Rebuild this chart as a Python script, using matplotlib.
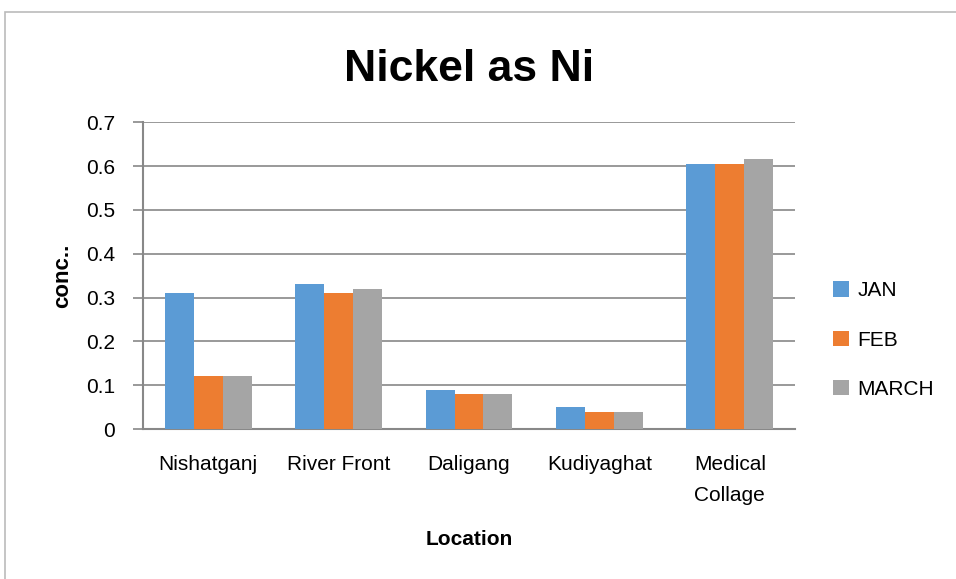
import numpy as np
import matplotlib
matplotlib.use("Agg")
import matplotlib.pyplot as plt
from matplotlib import font_manager
from matplotlib.patches import Rectangle

# Data
locations = ["Nishatganj", "River Front", "Daligang", "Kudiyaghat", "Medical\nCollage"]
months = ["JAN", "FEB", "MARCH"]
jan = [0.31, 0.33, 0.09, 0.05, 0.605]
feb = [0.12, 0.31, 0.08, 0.04, 0.605]
march = [0.122, 0.32, 0.08, 0.04, 0.615]
colors = ["#5B9BD5", "#ED7D31", "#A5A5A5"]

names = {f.name for f in font_manager.fontManager.ttflist}
fam = "Liberation Sans Narrow" if "Liberation Sans Narrow" in names else "Liberation Sans"
plt.rcParams["font.family"] = [fam, "DejaVu Sans"]

fig = plt.figure(figsize=(9.56, 5.79), dpi=100)
ax = fig.add_axes([0.1496, 0.259, 0.6820, 0.530])

x = np.arange(len(locations))
w = 0.222
for i, (vals, lab) in enumerate(zip([jan, feb, march], months)):
    ax.bar(x + (i - 1) * w, vals, w, color=colors[i], label=lab, zorder=3)

ax.set_xlim(-0.5, len(locations) - 0.5)
ax.set_ylim(0, 0.7)
ax.set_yticks(np.arange(0, 0.71, 0.1))
ax.set_yticklabels(["0", "0.1", "0.2", "0.3", "0.4", "0.5", "0.6", "0.7"])
ax.set_xticks(x)
ax.set_xticklabels(locations, fontsize=15, linespacing=1.75)
ax.tick_params(axis="y", labelsize=15, length=7, width=1.2, color="#888888", pad=13)
ax.tick_params(axis="x", length=0, pad=19)
ax.yaxis.grid(True, color="#888888", linewidth=1.2, zorder=0)

for s in ["top", "right"]:
    ax.spines[s].set_visible(False)
for s in ["left", "bottom"]:
    ax.spines[s].set_color("#888888")
    ax.spines[s].set_linewidth(1.5)

ax.set_ylabel("conc..", fontsize=16, fontweight="bold", labelpad=9)
ax.set_xlabel("Location", fontsize=15, fontweight="bold", labelpad=18)
fig.text(0.491, 0.880, "Nickel as Ni", ha="center", va="center",
         fontsize=32, fontweight="bold")

ax.legend(loc="center left", bbox_to_anchor=(1.03, 0.29), frameon=False,
          fontsize=15, handlelength=0.75, handleheight=0.75,
          labelspacing=1.45, handletextpad=0.4)

fig.patches.append(Rectangle((0.005, -0.02), 1.2, 1.0, transform=fig.transFigure,
                             fill=False, edgecolor="#BBBBBB", linewidth=1.2))

fig.savefig("out.png", dpi=100)
